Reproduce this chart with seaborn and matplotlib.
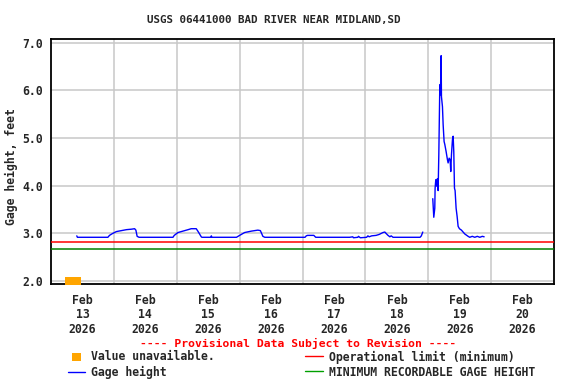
import numpy as np
import pandas as pd
import matplotlib
matplotlib.use("Agg")
import matplotlib.pyplot as plt
import seaborn as sns
from matplotlib.lines import Line2D
from matplotlib.patches import Rectangle

# gage height, feet; x in days since Feb 13 2026 00:00
seg1_day = [0.41, 0.42, 0.905, 0.93, 0.98, 1.04, 1.12, 1.20, 1.28, 1.33, 1.35, 1.37, 1.40,
            1.94, 1.96, 2.02, 2.10, 2.18, 2.23, 2.31, 2.34, 2.39, 2.40, 2.54, 2.55, 2.56,
            2.95, 3.00, 3.08, 3.19, 3.29, 3.33, 3.37, 3.40,
            4.04, 4.06, 4.08, 4.18, 4.21, 4.75, 4.80, 4.81, 4.88, 4.89, 4.91, 4.92,
            5.02, 5.04, 5.06, 5.10, 5.17, 5.22, 5.28, 5.31, 5.33, 5.36, 5.39, 5.41, 5.44,
            5.87, 5.89, 5.913]
seg1_ft = [2.95, 2.92, 2.92, 2.96, 3.00, 3.04, 3.06, 3.08, 3.09, 3.10, 3.07, 2.94, 2.92,
           2.92, 2.96, 3.02, 3.05, 3.08, 3.10, 3.10, 3.04, 2.93, 2.92, 2.92, 2.95, 2.92,
           2.92, 2.96, 3.02, 3.05, 3.07, 3.06, 2.94, 2.92,
           2.92, 2.95, 2.96, 2.96, 2.92, 2.92, 2.93, 2.91, 2.92, 2.94, 2.92, 2.91,
           2.92, 2.95, 2.93, 2.95, 2.96, 2.98, 3.02, 3.03, 3.00, 2.96, 2.93, 2.95, 2.92,
           2.92, 2.95, 3.03]

seg2_day = [6.072, 6.088, 6.104, 6.109, 6.120, 6.136, 6.146, 6.157, 6.168, 6.184, 6.194,
            6.205, 6.210, 6.226, 6.237, 6.252, 6.263, 6.284, 6.305, 6.316, 6.332, 6.348,
            6.358, 6.369, 6.385, 6.396, 6.406, 6.417, 6.427, 6.443, 6.459, 6.475, 6.496,
            6.528, 6.581, 6.634, 6.66, 6.70, 6.74, 6.78, 6.82, 6.86, 6.889]
seg2_ft = [3.73, 3.34, 3.53, 3.95, 4.13, 3.99, 4.15, 3.90, 4.65, 6.12, 5.91,
           6.73, 5.87, 5.66, 5.28, 4.93, 4.87, 4.72, 4.55, 4.48, 4.58, 4.55,
           4.30, 4.65, 4.97, 5.04, 4.72, 3.95, 3.90, 3.53, 3.36, 3.15, 3.10,
           3.07, 2.99, 2.94, 2.92, 2.94, 2.92, 2.94, 2.92, 2.94, 2.93]

oper_limit = 2.82
min_recordable = 2.67
unavail_start, unavail_end = 0.23, 0.47

tick_days = [0.5, 1.5, 2.5, 3.5, 4.5, 5.5, 6.5, 7.5]
tick_labels = ["Feb\n%d\n2026" % d for d in range(13, 21)]

df = pd.concat([
    pd.DataFrame({"day": seg1_day, "ft": seg1_ft, "seg": 1}),
    pd.DataFrame({"day": seg2_day, "ft": seg2_ft, "seg": 2}),
])

sns.set_style("white")
plt.rcParams["font.family"] = ["DejaVu Sans Mono"]
plt.rcParams["font.weight"] = "bold"

fig = plt.figure(figsize=(5.76, 3.84), dpi=100)
ax = fig.add_axes([51 / 576, 1 - 284 / 384, 503 / 576, 245 / 384])

sns.lineplot(data=df, x="day", y="ft", units="seg", estimator=None, color="#0000ff",
             lw=1.0, ax=ax, zorder=4)
ax.axhline(oper_limit, color="#ff0000", lw=1.1, zorder=3)
ax.axhline(min_recordable, color="#008000", lw=1.1, zorder=3)
ax.add_patch(Rectangle((unavail_start, 1.92), unavail_end - unavail_start, 0.165,
                       facecolor="#ffa500", edgecolor="none", clip_on=False, zorder=5))

ax.set_xlim(0, 8)
ax.set_ylim(1.94, 7.08)
ax.set_xticks(tick_days)
ax.set_xticklabels(tick_labels, linespacing=1.15)
ax.set_xticks(range(1, 8), minor=True)
ax.set_yticks([2, 3, 4, 5, 6, 7])
ax.set_yticklabels(["%.1f" % v for v in [2, 3, 4, 5, 6, 7]])
ax.tick_params(axis="both", which="both", length=0, labelsize=8.3)
ax.tick_params(axis="x", pad=7)
ax.tick_params(axis="y", pad=6)
ax.grid(False)
ax.grid(True, axis="x", which="minor", color="#c8c8c8", lw=1.1)
ax.grid(True, axis="y", which="major", color="#c8c8c8", lw=1.1)
ax.set_axisbelow(True)
for sp in ax.spines.values():
    sp.set_color("black")
    sp.set_linewidth(1.3)
ax.set_xlabel("")
ax.set_ylabel("")

fig.text(273.5 / 576, 1 - 20 / 384, "USGS 06441000 BAD RIVER NEAR MIDLAND,SD",
         ha="center", va="center", fontsize=7.8, fontweight="bold")
fig.text(11.5 / 576, 1 - 167 / 384, "Gage height, feet", rotation=90,
         ha="center", va="center", fontsize=8.3, fontweight="bold")
fig.text(298 / 576, 1 - 343 / 384, "---- Provisional Data Subject to Revision ----",
         ha="center", va="center", fontsize=8.2, fontweight="bold", color="#ff0000")

# legend
fig.add_artist(Rectangle((72.3 / 576, 1 - 360.7 / 384), 8.7 / 576, 8 / 384,
                         transform=fig.transFigure, facecolor="#ffa500", edgecolor="none"))
fig.add_artist(Line2D([67.7 / 576, 85 / 576], [1 - 372 / 384] * 2, color="#0000ff", lw=1.0))
fig.add_artist(Line2D([305 / 576, 322.7 / 576], [1 - 356 / 384] * 2, color="#ff0000", lw=1.0))
fig.add_artist(Line2D([305 / 576, 322.7 / 576], [1 - 371 / 384] * 2, color="#00a000", lw=1.0))
fig.text(91 / 576, 1 - 357 / 384, "Value unavailable.", ha="left", va="center",
         fontsize=8.3, fontweight="bold")
fig.text(91 / 576, 1 - 372.7 / 384, "Gage height", ha="left", va="center",
         fontsize=8.3, fontweight="bold")
fig.text(328.7 / 576, 1 - 357 / 384, "Operational limit (minimum)", ha="left", va="center",
         fontsize=8.3, fontweight="bold")
fig.text(328.7 / 576, 1 - 372.7 / 384, "MINIMUM RECORDABLE GAGE HEIGHT", ha="left", va="center",
         fontsize=8.3, fontweight="bold")

fig.savefig("out.png", dpi=100)
